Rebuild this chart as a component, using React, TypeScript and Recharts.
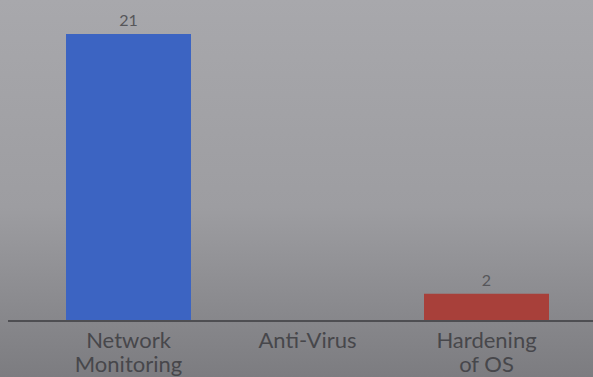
import { BarChart, Bar, XAxis, YAxis, Cell, LabelList } from 'recharts'

const categories = ['Network\nMonitoring', 'Anti-Virus', 'Hardening\nof OS']
const counts = [21, 0, 2]
const barColors = ['#3c64c2', '#3c64c2', '#a8403a']

const data = categories.map((name, i) => ({ name, count: counts[i] }))

function CategoryTick({ x, y, payload }: any) {
  const lines = String(payload.value).split('\n')
  return (
    <text x={x} y={y} textAnchor="middle" fill="#47474b" fontSize={22} fontFamily="Lato, sans-serif">
      {lines.map((line, i) => (
        <tspan key={i} x={x} dy={i === 0 ? 19 : 24}>
          {line}
        </tspan>
      ))}
    </text>
  )
}

function ValueLabel({ x, y, width, value }: any) {
  if (!value) return null
  return (
    <text x={x + width / 2} y={y - 8} textAnchor="middle" fill="#56565a" fontSize={16} fontFamily="Lato, sans-serif">
      {value}
    </text>
  )
}

export default function App() {
  return (
    <div
      style={{
        position: 'fixed',
        left: 0,
        top: 0,
        width: 593,
        height: 377,
        background: 'linear-gradient(180deg, #a8a8ac 0%, #9d9da1 55%, #7c7c80 100%)',
        overflow: 'hidden',
      }}
    >
      <BarChart width={593} height={377} data={data} margin={{ top: 34, right: 0, bottom: 0, left: 8 }}>
        <XAxis
          dataKey="name"
          axisLine={{ stroke: '#4e4e52', strokeWidth: 2 }}
          tickLine={false}
          interval={0}
          height={56}
          padding={{ left: 31, right: 17 }}
          tick={<CategoryTick />}
        />
        <YAxis hide domain={[0, 21]} />
        <Bar dataKey="count" barSize={125} isAnimationActive={false}>
          {data.map((d, i) => (
            <Cell key={d.name} fill={barColors[i]} />
          ))}
          <LabelList dataKey="count" content={<ValueLabel />} />
        </Bar>
      </BarChart>
    </div>
  )
}
